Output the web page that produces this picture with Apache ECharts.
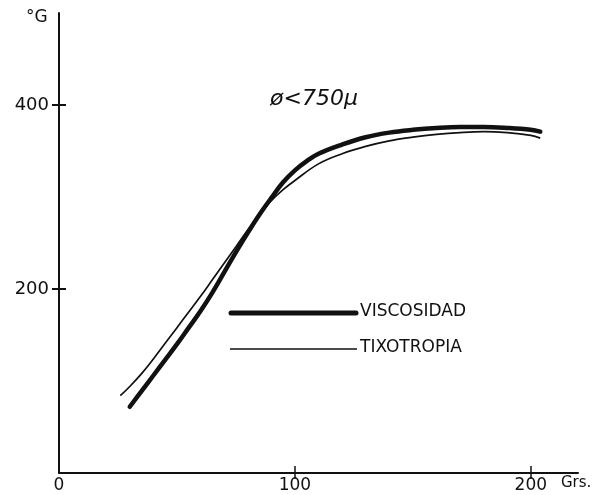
<!DOCTYPE html>
<html>
<head>
<meta charset="utf-8">
<script src="https://cdn.jsdelivr.net/npm/echarts@6/dist/echarts.min.js"></script>
<style>
  html, body { margin: 0; padding: 0; background: #fff; }
  #chart { width: 593px; height: 495px; }
</style>
</head>
<body>
<div id="chart"></div>
<script>
// curva de viscosidad (trazo grueso)
var viscX = [30, 35, 40, 45, 50, 55, 60, 65, 70, 75, 80, 85, 90, 95, 100, 105, 110, 120, 130, 140, 150, 160, 170, 180, 190, 200, 204];
var viscY = [72, 89, 106, 123, 140, 158, 176, 196, 218, 240, 261, 281, 299, 316, 329, 339, 347, 357, 365, 370, 373, 375, 376, 376, 375, 373, 371];
// curva de tixotropia (trazo fino)
var tixoX = [26, 30, 35, 40, 45, 50, 55, 60, 65, 70, 75, 80, 85, 90, 95, 100, 110, 120, 130, 140, 150, 160, 170, 180, 190, 200, 204];
var tixoY = [84, 94, 108, 124, 141, 158, 175, 192, 210, 228, 246, 264, 281, 296, 308, 318, 336, 347, 355, 361, 365, 368, 370, 371, 370, 367, 364];

var xLabels = [0, 100, 200];
var xTicks = [100, 200];
var yLabels = [200, 400];

function pairs(xs, ys) {
    var out = [];
    for (var i = 0; i < xs.length; i++) out.push([xs[i], ys[i]]);
    return out;
}

var ink = '#111';
var font = 'DejaVu Sans';

var chart = echarts.init(document.getElementById('chart'));

var option = {
    backgroundColor: '#fff',
    animation: false,
    grid: { left: 59, right: 15, top: 13, bottom: 22 },
    xAxis: [
        {
            type: 'value', min: 0, max: 220,
            splitLine: { show: false },
            axisLine: { lineStyle: { color: ink, width: 2 } },
            axisTick: { customValues: xTicks, length: 6, lineStyle: { color: ink, width: 1.5 } },
            axisLabel: { customValues: xLabels, color: ink, fontFamily: font, fontSize: 17, margin: 4 }
        },
        {
            // other half of the crossing ticks, snapped onto y = 0
            type: 'value', min: 0, max: 220, position: 'top',
            splitLine: { show: false },
            axisLine: { show: true, onZero: true, lineStyle: { opacity: 0 } },
            axisTick: { show: true, customValues: xTicks, length: 7, lineStyle: { color: ink, width: 1.5 } },
            axisLabel: { show: false }
        }
    ],
    yAxis: [
        {
            type: 'value', min: 0, max: 500,
            splitLine: { show: false },
            axisLine: { lineStyle: { color: ink, width: 2 } },
            axisTick: { customValues: yLabels, length: 7, lineStyle: { color: ink, width: 2 } },
            axisLabel: { customValues: yLabels, color: ink, fontFamily: font, fontSize: 18, margin: 10 }
        },
        {
            type: 'value', min: 0, max: 500, position: 'right',
            splitLine: { show: false },
            axisLine: { show: true, onZero: true, lineStyle: { opacity: 0 } },
            axisTick: { show: true, customValues: yLabels, length: 7, lineStyle: { color: ink, width: 2 } },
            axisLabel: { show: false }
        }
    ],
    series: [
        {
            name: 'VISCOSIDAD', type: 'line', smooth: 0.4, showSymbol: false,
            lineStyle: { color: ink, width: 4.5, cap: 'round' },
            data: pairs(viscX, viscY)
        },
        {
            name: 'TIXOTROPIA', type: 'line', smooth: 0.4, showSymbol: false,
            lineStyle: { color: ink, width: 1.7 },
            data: pairs(tixoX, tixoY)
        }
    ],
    graphic: [
        { type: 'text', left: 26, top: 9, style: { text: '°G', font: '17px "DejaVu Sans"', fill: ink } },
        { type: 'text', left: 561, top: 476, style: { text: 'Grs.', font: '15px "DejaVu Sans"', fill: ink } },
        { type: 'text', left: 270, top: 88, style: { text: 'ø<750µ', font: 'italic 22px "DejaVu Sans"', fill: ink } },
        { type: 'line', shape: { x1: 231, y1: 313, x2: 356, y2: 313 }, style: { stroke: ink, lineWidth: 5, lineCap: 'round' } },
        { type: 'text', left: 360, top: 303, style: { text: 'VISCOSIDAD', font: '17px "DejaVu Sans"', fill: ink } },
        { type: 'line', shape: { x1: 230, y1: 349, x2: 357, y2: 349 }, style: { stroke: ink, lineWidth: 1.7 } },
        { type: 'text', left: 360, top: 339, style: { text: 'TIXOTROPIA', font: '17px "DejaVu Sans"', fill: ink } }
    ]
};

chart.setOption(option);
</script>
</body>
</html>
